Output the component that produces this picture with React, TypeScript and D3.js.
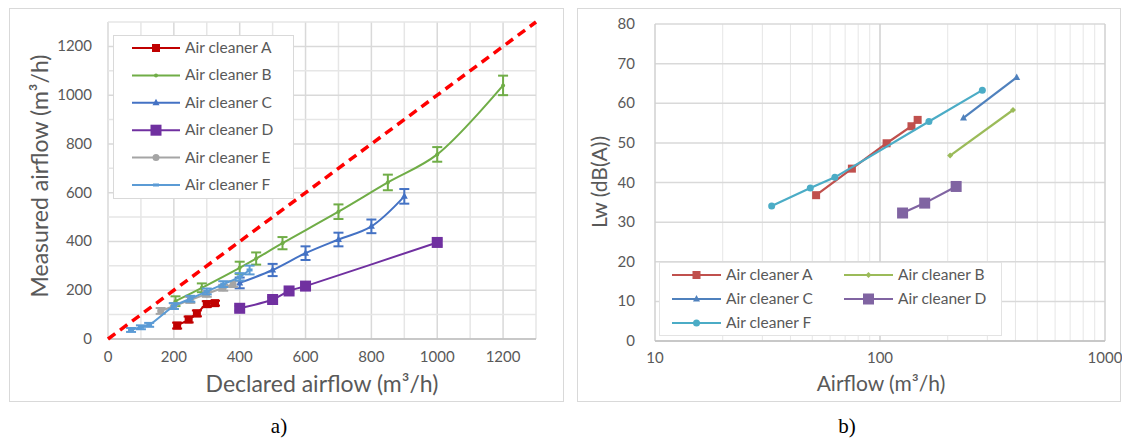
import React from 'react';
import * as d3 from 'd3';

// ---- panel a) declared vs measured airflow ----
const axisTicksA = [0, 200, 400, 600, 800, 1000, 1200];

const declaredA = [210, 245, 270, 300, 325];
const measuredA = [55, 80, 105, 143, 147];
const errA = [12, 12, 12, 12, 10];

const declaredB = [205, 285, 400, 450, 530, 700, 850, 1000, 1200];
const measuredB = [155, 210, 292, 330, 393, 522, 642, 757, 1040];
const errB = [20, 18, 25, 25, 25, 30, 32, 30, 40];

const declaredC = [400, 500, 600, 700, 800, 900];
const measuredC = [230, 283, 352, 408, 462, 585];
const errC = [22, 25, 28, 28, 28, 30];

const declaredD = [400, 500, 550, 600, 1000];
const measuredD = [126, 162, 197, 217, 396];
const errD = [10, 10, 10, 10, 12];

const declaredE = [160, 200, 250, 300, 350, 380];
const measuredE = [115, 135, 160, 185, 210, 225];
const errE = [12, 12, 12, 12, 12, 12];

const declaredF = [70, 100, 125, 200, 250, 300, 350, 400, 430];
const measuredF = [37, 48, 58, 135, 165, 195, 225, 255, 283];
const errF = [8, 8, 8, 12, 12, 12, 12, 15, 18];

// ---- panel b) sound power vs airflow ----
const lwTicks = [0, 10, 20, 30, 40, 50, 60, 70, 80];
const airflowTicks = [10, 100, 1000];

const airflowA = [52, 75, 107, 138, 147];
const lwA = [36.8, 43.5, 49.9, 54.2, 55.8];
const airflowB = [205, 390];
const lwB = [46.8, 58.3];
const airflowC = [235, 405];
const lwC = [56.3, 66.5];
const airflowD = [126, 158, 218];
const lwD = [32.3, 34.8, 39];
const airflowF = [33, 49, 63, 165, 285];
const lwF = [34.1, 38.6, 41.3, 55.4, 63.3];

const FONT = 'Lato, "Open Sans", sans-serif';
const TXT = '#595959';

type Shape = 'square' | 'bigsquare' | 'triangle' | 'circle' | 'dot' | 'dash' | 'diamond';

const Marker = ({ shape, x, y, color }: { shape: Shape; x: number; y: number; color: string }) => {
  if (shape === 'square') return <rect x={x - 4} y={y - 4} width={8} height={8} fill={color} />;
  if (shape === 'bigsquare') return <rect x={x - 5.5} y={y - 5.5} width={11} height={11} fill={color} />;
  if (shape === 'triangle') return <path d={`M${x},${y - 4}L${x + 3.5},${y + 2.5}L${x - 3.5},${y + 2.5}Z`} fill={color} />;
  if (shape === 'circle') return <circle cx={x} cy={y} r={3.5} fill={color} />;
  if (shape === 'diamond') return <path d={`M${x},${y - 3}L${x + 3},${y}L${x},${y + 3}L${x - 3},${y}Z`} fill={color} />;
  if (shape === 'dot') return <circle cx={x} cy={y} r={2} fill={color} />;
  return <rect x={x - 3} y={y - 1.5} width={6} height={3} fill={color} />;
};

const leftSeries = [
  { name: 'Air cleaner A', color: '#C00000', shape: 'square' as Shape, xs: declaredA, ys: measuredA, err: errA },
  { name: 'Air cleaner B', color: '#70AD47', shape: 'dot' as Shape, xs: declaredB, ys: measuredB, err: errB },
  { name: 'Air cleaner C', color: '#4472C4', shape: 'triangle' as Shape, xs: declaredC, ys: measuredC, err: errC },
  { name: 'Air cleaner D', color: '#7030A0', shape: 'bigsquare' as Shape, xs: declaredD, ys: measuredD, err: errD },
  { name: 'Air cleaner E', color: '#A5A5A5', shape: 'circle' as Shape, xs: declaredE, ys: measuredE, err: errE },
  { name: 'Air cleaner F', color: '#5B9BD5', shape: 'dash' as Shape, xs: declaredF, ys: measuredF, err: errF },
];

const rightSeries = [
  { name: 'Air cleaner A', color: '#C0504D', shape: 'square' as Shape, xs: airflowA, ys: lwA },
  { name: 'Air cleaner B', color: '#9BBB59', shape: 'diamond' as Shape, xs: airflowB, ys: lwB },
  { name: 'Air cleaner C', color: '#4F81BD', shape: 'triangle' as Shape, xs: airflowC, ys: lwC },
  { name: 'Air cleaner D', color: '#8064A2', shape: 'bigsquare' as Shape, xs: airflowD, ys: lwD },
  { name: 'Air cleaner F', color: '#4BACC6', shape: 'circle' as Shape, xs: airflowF, ys: lwF },
];

const LeftChart = () => {
  const x = d3.scaleLinear().domain([0, 1300]).range([108, 536]);
  const y = d3.scaleLinear().domain([0, 1300]).range([339, 22]);
  const grid = d3.range(0, 1301, 100);
  const line = d3.line<[number, number]>().x(d => x(d[0])).y(d => y(d[1])).curve(d3.curveCatmullRom);

  return (
    <g>
      <rect x={9.5} y={8.5} width={554} height={393} fill="#fff" stroke="#D9D9D9" />
      {grid.map(v => (
        <line key={'gx' + v} x1={x(v)} x2={x(v)} y1={y(0)} y2={y(1300)} stroke={v % 200 === 0 ? '#D9D9D9' : '#E6E6E6'} strokeWidth={1.5} />
      ))}
      {grid.map(v => (
        <line key={'gy' + v} x1={x(0)} x2={x(1300)} y1={y(v)} y2={y(v)} stroke={v % 200 === 0 ? '#D9D9D9' : '#E6E6E6'} strokeWidth={1.5} />
      ))}
      <line x1={x(0)} x2={x(1300)} y1={y(0)} y2={y(0)} stroke="#BFBFBF" strokeWidth={1.5} />
      {axisTicksA.map(v => (
        <text key={'tx' + v} x={x(v)} y={362} textAnchor="middle" fontSize={15} fill={TXT} fontFamily={FONT}>{v}</text>
      ))}
      {axisTicksA.map(v => (
        <text key={'ty' + v} x={92} y={y(v) + 5} textAnchor="end" fontSize={15} fill={TXT} fontFamily={FONT}>{v}</text>
      ))}
      <text x={322} y={392} textAnchor="middle" fontSize={23} fill={TXT} fontFamily={FONT}>Declared airflow (m³/h)</text>
      <text transform="translate(48,176) rotate(-90)" textAnchor="middle" fontSize={23} fill={TXT} fontFamily={FONT}>Measured airflow (m³/h)</text>

      {leftSeries.map(s => {
        const pts = s.xs.map((v, i) => [v, s.ys[i]] as [number, number]);
        return (
          <g key={s.name}>
            <path d={line(pts) || ''} fill="none" stroke={s.color} strokeWidth={2} />
            {pts.map((p, i) => (
              <g key={i} stroke={s.color} strokeWidth={2}>
                <line x1={x(p[0])} x2={x(p[0])} y1={y(p[1] - s.err[i])} y2={y(p[1] + s.err[i])} />
                <line x1={x(p[0]) - 5} x2={x(p[0]) + 5} y1={y(p[1] - s.err[i])} y2={y(p[1] - s.err[i])} />
                <line x1={x(p[0]) - 5} x2={x(p[0]) + 5} y1={y(p[1] + s.err[i])} y2={y(p[1] + s.err[i])} />
              </g>
            ))}
            {pts.map((p, i) => <Marker key={'m' + i} shape={s.shape} x={x(p[0])} y={y(p[1])} color={s.color} />)}
          </g>
        );
      })}
      <line x1={x(0)} y1={y(0)} x2={x(1300)} y2={y(1300)} stroke="#FF0000" strokeWidth={3.5} strokeDasharray="9,6" />

      <rect x={113.5} y={35.5} width={180} height={163} fill="#fff" stroke="#D9D9D9" />
      {leftSeries.map((s, i) => {
        const ly = 48 + i * 27.4;
        return (
          <g key={'lg' + s.name}>
            <line x1={132} x2={180} y1={ly} y2={ly} stroke={s.color} strokeWidth={2} />
            <Marker shape={s.shape} x={156} y={ly} color={s.color} />
            <text x={185} y={ly + 5} fontSize={15.5} fill={TXT} fontFamily={FONT}>{s.name}</text>
          </g>
        );
      })}
    </g>
  );
};

const RightChart = () => {
  const x = d3.scaleLog().domain([10, 1000]).range([655, 1105]);
  const y = d3.scaleLinear().domain([0, 80]).range([341, 24]);
  const vgrid = [20, 30, 40, 50, 60, 70, 80, 90, 200, 300, 400, 500, 600, 700, 800, 900];
  const line = d3.line<[number, number]>().x(d => x(d[0])).y(d => y(d[1]));

  return (
    <g>
      <rect x={577.5} y={8.5} width={543} height={393} fill="#fff" stroke="#D9D9D9" />
      {vgrid.map(v => (
        <line key={'vg' + v} x1={x(v)} x2={x(v)} y1={y(0)} y2={y(80)} stroke="#E6E6E6" strokeWidth={1} />
      ))}
      {lwTicks.map(v => (
        <line key={'hg' + v} x1={x(10)} x2={x(1000)} y1={y(v)} y2={y(v)} stroke="#D9D9D9" strokeWidth={1.5} />
      ))}
      {airflowTicks.map(v => (
        <line key={'mg' + v} x1={x(v)} x2={x(v)} y1={y(0)} y2={y(80)} stroke="#D0D0D0" strokeWidth={1.5} />
      ))}
      <line x1={x(10)} x2={x(1000)} y1={y(0)} y2={y(0)} stroke="#BFBFBF" strokeWidth={1.5} />
      {lwTicks.map(v => (
        <text key={'ly' + v} x={635} y={y(v) + 5} textAnchor="end" fontSize={15} fill={TXT} fontFamily={FONT}>{v}</text>
      ))}
      {airflowTicks.map(v => (
        <text key={'lx' + v} x={x(v)} y={363} textAnchor="middle" fontSize={15} fill={TXT} fontFamily={FONT}>{v}</text>
      ))}
      <text x={881} y={391} textAnchor="middle" fontSize={21} fill={TXT} fontFamily={FONT}>Airflow (m³/h)</text>
      <text transform="translate(607,182) rotate(-90)" textAnchor="middle" fontSize={21} fill={TXT} fontFamily={FONT}>Lw (dB(A))</text>

      {rightSeries.map(s => {
        const pts = s.xs.map((v, i) => [v, s.ys[i]] as [number, number]);
        return (
          <g key={s.name}>
            <path d={line(pts) || ''} fill="none" stroke={s.color} strokeWidth={2.2} />
            {pts.map((p, i) => <Marker key={i} shape={s.shape} x={x(p[0])} y={y(p[1])} color={s.color} />)}
          </g>
        );
      })}

      <rect x={659.5} y={262.5} width={342} height={73} fill="#fff" stroke="#E3E3E3" />
      {rightSeries.map((s, i) => {
        const col = i % 2;
        const row = Math.floor(i / 2);
        const lx = col === 0 ? 672 : 844;
        const ly = 275 + row * 24;
        return (
          <g key={'rl' + s.name}>
            <line x1={lx} x2={lx + 49} y1={ly} y2={ly} stroke={s.color} strokeWidth={2.2} />
            <Marker shape={s.shape} x={lx + 24.5} y={ly} color={s.color} />
            <text x={lx + 54} y={ly + 5} fontSize={15.5} fill={TXT} fontFamily={FONT}>{s.name}</text>
          </g>
        );
      })}
    </g>
  );
};

export default function App() {
  return (
    <svg width={1122} height={439} style={{ position: 'absolute', left: 0, top: 0, background: '#fff' }}>
      <LeftChart />
      <RightChart />
      <text x={279} y={433} textAnchor="middle" fontSize={21} fontFamily='"Liberation Serif", serif' fill="#000">a)</text>
      <text x={847} y={433} textAnchor="middle" fontSize={21} fontFamily='"Liberation Serif", serif' fill="#000">b)</text>
    </svg>
  );
}
